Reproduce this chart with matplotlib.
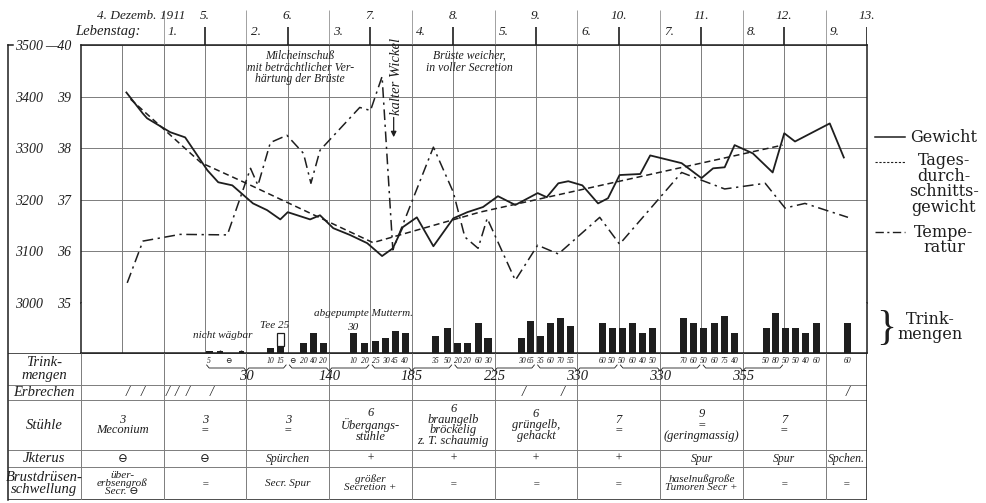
import numpy as np
import matplotlib.pyplot as plt
from matplotlib.lines import Line2D

plt.rcParams['font.family'] = ['Liberation Serif', 'DejaVu Serif', 'DejaVu Sans']

# time axis: days after 4 Dec 1911, 0 h
# body weight (g)
w_t = [0.05, 0.25, 0.30, 0.58, 0.76, 1.03, 1.16, 1.33, 1.58, 1.75,
       1.91, 2.00, 2.27, 2.39, 2.55, 2.75, 2.96, 3.14, 3.27, 3.39,
       3.56, 3.76, 4.00, 4.17, 4.36, 4.54, 4.75, 5.02, 5.13, 5.27,
       5.39, 5.56, 5.75, 5.87, 6.01, 6.26, 6.38, 6.76, 7.00, 7.14,
       7.28, 7.40, 7.62, 7.86, 8.00, 8.13, 8.55, 8.72]
w_g = [3408, 3367, 3358, 3331, 3321, 3257, 3234, 3228, 3193, 3180,
       3162, 3176, 3162, 3170, 3145, 3132, 3116, 3091, 3106, 3147,
       3166, 3110, 3164, 3176, 3186, 3207, 3190, 3213, 3205, 3232,
       3236, 3228, 3193, 3203, 3248, 3250, 3286, 3271, 3242, 3261,
       3263, 3306, 3290, 3253, 3329, 3313, 3348, 3282]

# daily mean weight (g)
m_t = [0.10, 0.95, 1.50, 3.03, 4.32, 7.98]
m_g = [3395, 3272, 3232, 3117, 3176, 3306]

# temperature (deg C)
t_t = [0.06, 0.25, 0.70, 1.27, 1.55, 1.64, 1.79, 1.99, 2.19, 2.28,
       2.39, 2.87, 3.00, 3.14, 3.27, 3.76, 4.00, 4.14, 4.30, 4.41,
       4.75, 5.02, 5.27, 5.77, 6.01, 6.76, 7.00, 7.28, 7.77, 8.01,
       8.25, 8.77]
t_c = [35.39, 36.20, 36.33, 36.32, 37.61, 37.28, 38.11, 38.25, 37.90, 37.32,
       37.96, 38.79, 38.73, 39.39, 36.03, 38.02, 37.15, 36.28, 36.06, 36.64,
       35.44, 36.12, 35.95, 36.66, 36.14, 37.53, 37.38, 37.21, 37.32, 36.84,
       36.93, 36.66]

# feedings (ml)
feed_t = [1.05, 1.79, 1.91, 2.19, 2.31, 2.43, 2.79, 2.93, 3.06, 3.18,
          3.30, 3.42, 3.78, 3.93, 4.05, 4.17, 4.30, 4.42, 4.83, 4.93,
          5.05, 5.17, 5.30, 5.42, 5.80, 5.92, 6.04, 6.17, 6.29, 6.41,
          6.78, 6.90, 7.03, 7.16, 7.28, 7.40, 7.78, 7.90, 8.02, 8.14,
          8.26, 8.39, 8.77]
feed_ml = [5, 10, 15, 20, 40, 20, 10, 20, 25, 30,
           45, 40, 35, 50, 20, 20, 60, 30, 30, 65,
           35, 60, 70, 55, 60, 50, 50, 60, 40, 50,
           70, 60, 50, 60, 75, 40, 50, 80, 50, 50,
           40, 60, 60]
tea_t, tea_ml = [1.91], [25]
pumped_t, pumped_ml = [2.79], [30]
unweighed_t = [1.18, 1.44]
nothing_t = [1.28, 2.05]

total_t = [1.5, 2.5, 3.5, 4.5, 5.5, 6.5, 7.5]
total_ml = [30, 140, 185, 225, 330, 330, 355]

vomit_t = [0.06, 0.24, 0.55, 0.66, 0.79, 1.08, 4.85, 5.32, 8.77]

stools = ['3\nMeconium', '3\n=', '3\n=', '6\nÜbergangs-\nstühle',
          '6\nbraungelb\nbröckelig\nz. T. schaumig', '6\ngrüngelb,\ngehackt',
          '7\n=', '9\n=\n(geringmassig)', '7\n=', '']
icterus = ['⊖', '⊖', 'Spürchen', '+', '+', '+', '+', 'Spur', 'Spur', 'Spchen.']
breast = ['über-\nerbsengroß\nSecr. ⊖', '=', 'Secr. Spur', 'größer\nSecretion +',
          '=', '=', '=', 'haselnußgroße\nTumoren Secr +', '=', '=']
col_x = [0, 1, 2, 3, 4, 5, 6, 7, 8, 8.75]

weight_ticks = [3000, 3100, 3200, 3300, 3400, 3500]
temp_ticks = [35, 36, 37, 38, 39, 40]

W, H = 987, 503
X0, DAY = 122.25, 82.75          # pixel of day 0 and pixels per day
INK = '#1e1e1e'
GRID = '#7c7c7c'
IT = dict(style='italic', color=INK)
KEY = dict(family=['DejaVu Serif'], fontsize=11.5, color=INK)

fig = plt.figure(figsize=(W / 100, H / 100), dpi=100)


def px_axes(x0, y0, x1, y1):
    return fig.add_axes([x0 / W, 1 - y1 / H, (x1 - x0) / W, (y1 - y0) / H])


def ftext(x, y, s, **kw):
    fig.text(x / W, 1 - y / H, s, **kw)


def fline(xs, ys, **kw):
    fig.add_artist(Line2D([x / W for x in xs], [1 - y / H for y in ys], **kw))


xl = X0 - 0.5 * DAY
xr = X0 + 9 * DAY

# ---- weight / temperature chart
ax = px_axes(xl, 45, xr, 303)
ax.set_xlim(-0.5, 9)
ax.set_ylim(3000, 3500)
ax.set_xticks(np.arange(0, 9, 0.5))
ax.set_yticks(weight_ticks)
ax.set_yticklabels([str(v) for v in weight_ticks], fontsize=10, **IT)
ax.tick_params(axis='x', length=0, labelbottom=False)
ax.tick_params(axis='y', length=0, pad=27)
ax.grid(color=GRID, lw=0.7)
for s in ['left', 'top', 'right']:
    ax.spines[s].set_color(INK)
    ax.spines[s].set_linewidth(1.1)
ax.spines['bottom'].set_color(GRID)
ax.spines['bottom'].set_linewidth(0.7)

ax2 = ax.twinx()
ax2.set_ylim(35, 40)
ax2.yaxis.tick_left()
ax2.set_yticks(temp_ticks)
ax2.set_yticklabels([str(v) for v in temp_ticks[:-1]] + ['—40'], fontsize=10, **IT)
ax2.tick_params(axis='y', length=0, pad=7)
for s in ax2.spines.values():
    s.set_visible(False)

ax.plot(w_t, w_g, color=INK, lw=1.3)
ax.plot(m_t, m_g, color=INK, lw=1.1, ls=(0, (4, 2.5)))
ax2.plot(t_t, t_c, color=INK, lw=1.1, ls=(0, (7, 3, 1.5, 3)))

ax.text(2.15, 3490, 'Milcheinschuß\nmit beträchtlicher Ver-\nhärtung der Brüste',
        ha='center', va='top', fontsize=8.5, linespacing=0.95, **IT)
ax.text(4.2, 3490, 'Brüste weicher,\nin voller Secretion',
        ha='center', va='top', fontsize=8.5, linespacing=0.95, **IT)
ax.text(3.31, 3440, 'kalter Wickel', rotation=90, ha='center', va='center',
        fontsize=10.5, **IT)
ax.annotate('', xy=(3.28, 3316), xytext=(3.28, 3365),
            arrowprops=dict(arrowstyle='-|>', color=INK, lw=0.9, mutation_scale=8))

# ---- feeding bars
bx = px_axes(xl, 303, xr, 353)
bx.set_xlim(-0.5, 9)
bx.set_ylim(0, 100)
bx.set_xticks(np.arange(0, 9, 0.5))
bx.set_yticks([])
bx.tick_params(axis='x', length=0, labelbottom=False)
bx.grid(axis='x', color=GRID, lw=0.7)
bx.spines['top'].set_visible(False)
for s in ['left', 'right', 'bottom']:
    bx.spines[s].set_color(INK)
    bx.spines[s].set_linewidth(1.1)

bx.bar(feed_t, feed_ml, width=0.085, color=INK, zorder=3)
pumped_base = [feed_ml[feed_t.index(t)] for t in pumped_t]
bx.bar(pumped_t, pumped_ml, bottom=pumped_base, width=0.085, color=INK, zorder=3)
tea_base = [feed_ml[feed_t.index(t)] for t in tea_t]
bx.bar(tea_t, tea_ml, bottom=tea_base, width=0.085, facecolor='white',
       edgecolor=INK, lw=0.9, zorder=3)
bx.vlines(unweighed_t, 0, 7, color=INK, lw=1.0, zorder=3)
bx.hlines([1.2] * len(unweighed_t), [t - 0.035 for t in unweighed_t],
          [t + 0.035 for t in unweighed_t], color=INK, lw=1.4, zorder=3)

bx.text(1.21, 36, 'nicht wägbar', ha='center', va='center', fontsize=8, **IT)
bx.text(1.84, 56, 'Tee 25', ha='center', va='center', fontsize=8, **IT)
bx.text(2.78, 52, str(pumped_ml[0]), ha='center', va='center', fontsize=8, **IT)
bx.text(2.92, 80, 'abgepumpte Mutterm.', ha='center', va='center', fontsize=8, **IT)

# ---- table below
tl = (8 - X0) / DAY
tx = px_axes(8, 353, xr, 500)
tx.set_xlim(tl, 9)
tx.set_ylim(500, 353)
tx.axis('off')
tx.hlines([385, 400, 450, 467], tl, 9, color=GRID, lw=0.7)
tx.hlines([353, 500], tl, 9, color=INK, lw=1.1)
tx.vlines(np.arange(-0.5, 9, 1.0), 353, 500, color=GRID, lw=0.7)
tx.vlines([9], 353, 500, color=INK, lw=1.1)

lab_x = (44 - X0) / DAY
for y, s in [(369, 'Trink-\nmengen'), (392.5, 'Erbrechen'), (425, 'Stühle'),
             (458.5, 'Jkterus'), (483.5, 'Brustdrüsen-\nschwellung')]:
    tx.text(lab_x, y, s, ha='center', va='center', fontsize=10.5,
            linespacing=0.9, **IT)

# single feeding amounts under the bars
for t, v in zip(feed_t, feed_ml):
    tx.text(t, 361, str(v), ha='center', va='center', fontsize=5.5, **IT)
for t in nothing_t:
    tx.text(t, 361, '⊖', ha='center', va='center', fontsize=5.5, **IT)

# underbraces with daily totals
for t, v in zip(total_t, total_ml):
    a, b = t - 0.48, t + 0.48
    tx.plot([a, a + 0.03, t - 0.03, t, t + 0.03, b - 0.03, b],
            [365, 368, 368, 371, 368, 368, 365], color=INK, lw=0.6)
    tx.text(t, 376, str(v), ha='center', va='center', fontsize=10.5, **IT)

for t in vomit_t:
    tx.text(t, 392.5, '/', ha='center', va='center', fontsize=10, **IT)

for x, s in zip(col_x, stools):
    tx.text(x, 425, s, ha='center', va='center', fontsize=9, linespacing=0.88, **IT)
for x, s in zip(col_x, icterus):
    tx.text(x, 458.5, s, ha='center', va='center', fontsize=8.5, **IT)
for x, s in zip(col_x, breast):
    tx.text(x, 483.5, s, ha='center', va='center', fontsize=8, linespacing=0.85, **IT)

# ---- date header
hx = px_axes(xl, 8, xr, 45)
hx.set_xlim(-0.5, 9)
hx.set_ylim(45, 8)
hx.axis('off')
hx.vlines(np.arange(0.5, 9, 1.0), 10, 45, color=GRID, lw=0.5)
hx.vlines(np.arange(1, 10), 27, 45, color=INK, lw=1.2)
hx.text(0.23, 16, '4. Dezemb. 1911', ha='center', va='center', fontsize=9.5, **IT)
for d in range(1, 10):
    hx.text(d, 16, f'{d + 4}.', ha='center', va='center', fontsize=9.5, **IT)
hx.text(-0.57, 32, 'Lebenstag:', ha='left', va='center', fontsize=10.5,
        clip_on=False, **IT)
for k in range(1, 10):
    hx.text(k - 0.45, 32, f'{k}.', ha='left', va='center', fontsize=9.5, **IT)

# outer left rule
fline([8, 8], [45, 500], color=INK, lw=1.1)
fline([8, 13], [45, 45], color=INK, lw=1.1)

# ---- key on the right
fline([875, 905], [137, 137], color=INK, lw=1.1)
ftext(910, 137, 'Gewicht', ha='left', va='center', **KEY)
fline([875, 905], [162, 162], color=INK, lw=0.8, ls=(0, (2, 1.5)))
ftext(944, 184, 'Tages-\ndurch-\nschnitts-\ngewicht', ha='center', va='center',
      linespacing=0.88, **KEY)
fline([875, 905], [232, 232], color=INK, lw=1.0, ls=(0, (6, 2.5, 1.5, 2.5)))
ftext(944, 240, 'Tempe-\nratur', ha='center', va='center', linespacing=0.88, **KEY)
ftext(886, 329, '}', ha='center', va='center', fontsize=30, color=INK,
      fontweight='light')
ftext(930, 327, 'Trink-\nmengen', ha='center', va='center', linespacing=0.88, **KEY)

fig.savefig('out.png', dpi=100, facecolor='white')
